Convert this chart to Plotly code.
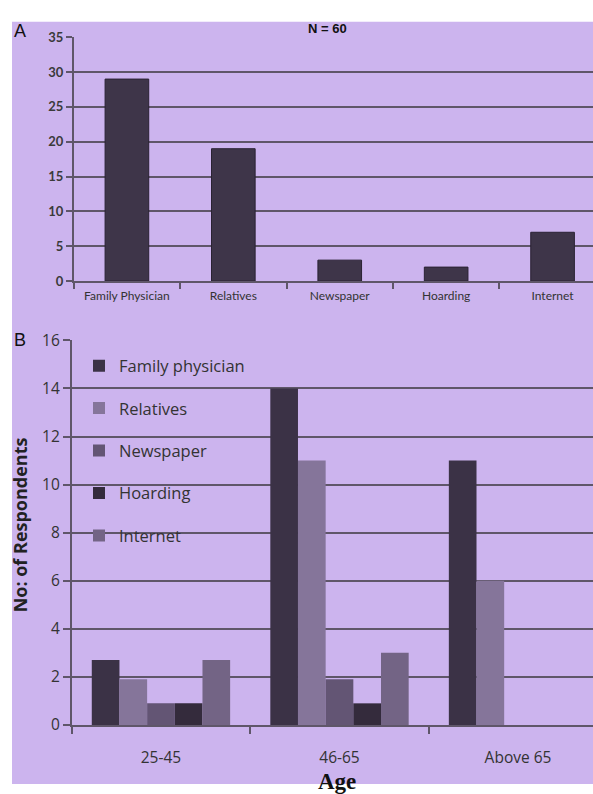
import plotly.graph_objects as go

# Panel A: information sources (N = 60)
sources = ["Family Physician", "Relatives", "Newspaper", "Hoarding", "Internet"]
source_counts = [29, 19, 3, 2, 7]

# Panel B: sources by age group
age_groups = ["25-45", "46-65", "Above 65"]
series_names = ["Family physician", "Relatives", "Newspaper", "Hoarding", "Internet"]
family_physician = [2.7, 14, 11]
relatives = [1.9, 11, 6]
newspaper = [0.9, 1.9, 0]
hoarding = [0.9, 0.9, 0]
internet = [2.7, 3, 0]
series_values = [family_physician, relatives, newspaper, hoarding, internet]

W, H = 593, 794
BG = "#ccb4ee"
GRID = "#5f5669"
TEXT = "#333333"
FONT = "Lato, 'Open Sans', sans-serif"
FONT_B = "'Open Sans', Lato, sans-serif"
series_colors = ["#3b3246", "#85759a", "#635574", "#342b3c", "#736485"]


def px_x(p):
    return p / W


def px_y(p):
    return 1 - p / H


fig = go.Figure()

fig.add_trace(go.Bar(
    x=sources, y=source_counts, width=0.41,
    marker=dict(color="#3e3549", line=dict(color="#2a2233", width=1)),
    showlegend=False, xaxis="x", yaxis="y",
))

for i, (name, vals) in enumerate(zip(series_names, series_values)):
    fig.add_trace(go.Bar(
        x=age_groups, y=vals, name=name, legendgroup=name,
        marker=dict(color=series_colors[i], line=dict(width=0)),
        xaxis="x2", yaxis="y2",
    ))

axis_common = dict(
    showline=True, linecolor=GRID, linewidth=1.5,
    ticks="outside", tickcolor=GRID, tickwidth=1.5,
    zeroline=False, fixedrange=True,
)

fig.update_layout(
    width=W, height=H,
    margin=dict(l=0, r=0, t=0, b=0),
    paper_bgcolor="white",
    plot_bgcolor="rgba(0,0,0,0)",
    barmode="group", bargap=0.225, bargroupgap=0,
    showlegend=True,
    legend=dict(
        x=px_x(79), y=px_y(346), xanchor="left", yanchor="top",
        bgcolor="rgba(0,0,0,0)", tracegroupgap=18,
        font=dict(family=FONT_B, size=16.5, color=TEXT),
    ),
    xaxis=dict(
        domain=[px_x(73.7), 1], range=[-0.5, 4.38], type="category",
        tickson="boundaries", ticklen=6, anchor="y", ticklabelstandoff=3,
        tickfont=dict(family=FONT, size=12, color=TEXT),
        **axis_common,
    ),
    yaxis=dict(
        domain=[px_y(276.7), px_y(26)], range=[0, 35], dtick=5,
        showgrid=True, gridcolor=GRID, gridwidth=2, ticklen=6, anchor="x",
        tickfont=dict(family=FONT, size=13, color="#3a3a3a", weight="bold"),
        **axis_common,
    ),
    xaxis2=dict(
        domain=[px_x(71.7), 1], range=[-0.5, 2.42], type="category",
        tickson="boundaries", ticklen=7, anchor="y2", ticklabelstandoff=18,
        tickfont=dict(family=FONT_B, size=15.5, color=TEXT),
        **axis_common,
    ),
    yaxis2=dict(
        domain=[px_y(733.3), px_y(337.7)], range=[0, 16], dtick=2,
        showgrid=True, gridcolor=GRID, gridwidth=2, ticklen=7, anchor="x2",
        tickfont=dict(family=FONT_B, size=15.5, color=TEXT),
        **axis_common,
    ),
    shapes=[dict(
        type="rect", xref="paper", yref="paper",
        x0=px_x(12), x1=1, y0=0, y1=px_y(10),
        fillcolor=BG, line=dict(width=0), layer="below",
    )],
    annotations=[
        dict(text="A", x=px_x(12), y=px_y(20), xref="paper", yref="paper",
             xanchor="left", yanchor="middle", showarrow=False,
             font=dict(family="Liberation Sans, Arial, sans-serif", size=18, color="#111")),
        dict(text="B", x=px_x(12), y=px_y(337), xref="paper", yref="paper",
             xanchor="left", yanchor="middle", showarrow=False,
             font=dict(family="Liberation Sans, Arial, sans-serif", size=18, color="#111")),
        dict(text="<b>N = 60</b>", x=px_x(327), y=px_y(17), xref="paper", yref="paper",
             xanchor="center", yanchor="middle", showarrow=False,
             font=dict(family="Liberation Sans, Arial, sans-serif", size=13, color="#111")),
        dict(text="<b>No: of Respondents</b>", x=px_x(20), y=px_y(528), xref="paper", yref="paper",
             xanchor="center", yanchor="middle", showarrow=False, textangle=-90,
             font=dict(family=FONT_B, size=18, color="#222")),
        dict(text="<b>Age</b>", x=px_x(337), y=px_y(791), xref="paper", yref="paper",
             xanchor="center", yanchor="middle", showarrow=False,
             font=dict(family="Liberation Serif, 'Times New Roman', serif", size=23, color="#111")),
    ],
)

fig.write_html("out.html")
